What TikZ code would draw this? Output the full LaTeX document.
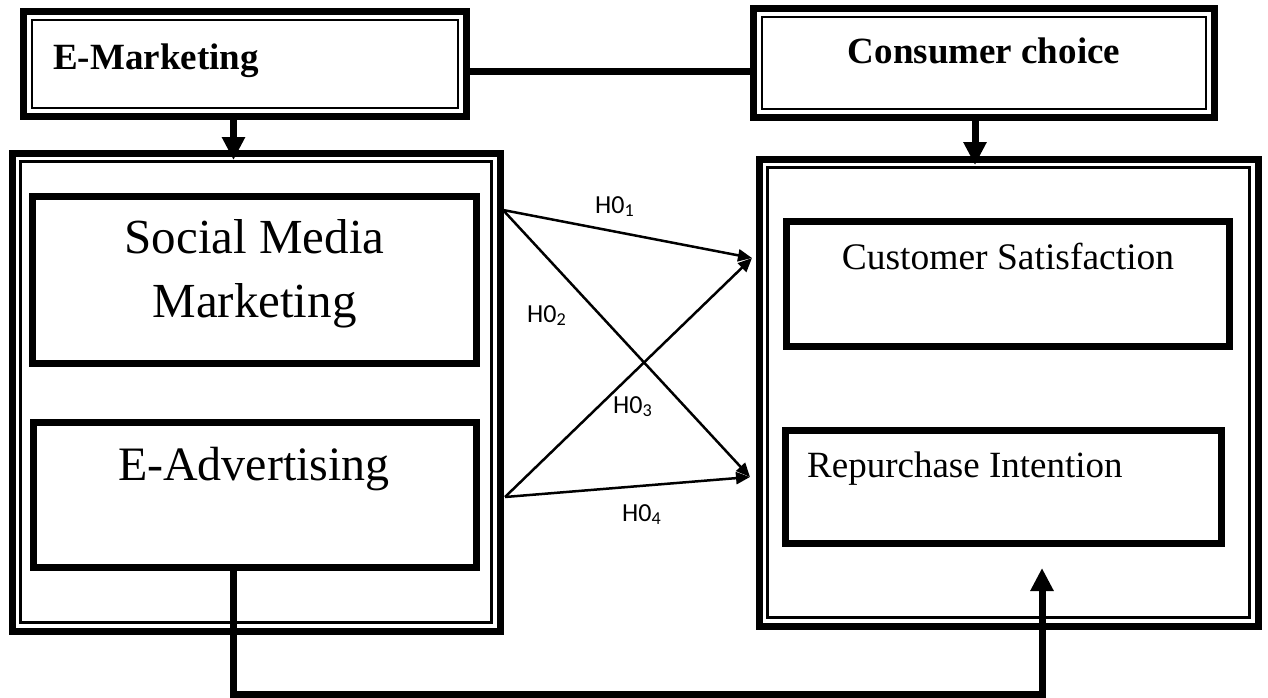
\documentclass[tikz,border=0pt]{standalone}
\usepackage{fontspec}
\setmainfont{Liberation Serif}
\newfontfamily\hfont{Carlito}
\usetikzlibrary{arrows.meta}

\begin{document}
\begin{tikzpicture}[x=1pt, y=-1pt,
    framebox/.style={draw, line width=7pt, inner sep=0pt, outer sep=0pt},
    itembox/.style={draw, line width=7pt, inner sep=0pt, outer sep=0pt},
    boxtext/.style={inner sep=0pt},
    hlabel/.style={anchor=base west, inner sep=0pt, font=\hfont\fontsize{26}{30}\selectfont},
    link/.style={line width=7pt},
    fatarrow/.style={line width=7pt, -{Triangle[length=23pt, width=22pt]}},
    hyp/.style={line width=2.5pt, -{Triangle[length=14pt, width=12pt]}}]
  \useasboundingbox (0,0) rectangle (1268,698);

  % headline boxes
  \node[framebox, minimum width=443pt, minimum height=105pt] (emk) at (245,64) {};
  \node[framebox, minimum width=461pt, minimum height=109pt] (cch) at (984,63) {};
  % the two groups
  \node[framebox, minimum width=488pt, minimum height=478pt] (lgrp) at (256,392) {};
  \node[framebox, minimum width=499pt, minimum height=467pt] (rgrp) at (1008.5,392.5) {};
  % thin inner rule of each frame
  \foreach \f in {emk,cch,lgrp,rgrp}
    \draw[line width=2.5pt] ([shift={(8.5,8.5)}]\f.north west) rectangle ([shift={(-8.5,-8.5)}]\f.south east);

  % variables
  \node[itembox, minimum width=444pt, minimum height=167pt] (smm) at (254.5,280) {};
  \node[itembox, minimum width=443pt, minimum height=145pt] (eadv) at (255,495) {};
  \node[itembox, minimum width=443pt, minimum height=125pt] (csat) at (1008,284) {};
  \node[itembox, minimum width=436pt, minimum height=113pt] (rpi) at (1003.5,487) {};

  % texts
  \node[boxtext, anchor=base west, font=\bfseries\fontsize{37}{44}\selectfont] (emktxt) at (53,70) {E-Marketing};
  \node[boxtext, anchor=base, font=\bfseries\fontsize{37}{44}\selectfont] (cchtxt) at (984,64) {Consumer choice};
  \node[boxtext, anchor=base, align=center, font=\fontsize{49}{64}\selectfont] (smmtxt) at (254.5,317) {Social Media\\Marketing};
  \node[boxtext, anchor=base, font=\fontsize{48}{58}\selectfont] (eadvtxt) at (254,480) {E-Advertising};
  \node[boxtext, anchor=base, font=\fontsize{37.5}{44}\selectfont] (csattxt) at (1008,269) {Customer Satisfaction};
  \node[boxtext, anchor=base west, font=\fontsize{37}{44}\selectfont] (rpitxt) at (807,477) {Repurchase Intention};

  % hypotheses
  \coordinate (smmout) at (503,210);
  \coordinate (eadvout) at (505,497);
  \coordinate (csatin) at (752,258);
  \coordinate (rpiin) at (750,477);
  \draw[hyp] (smmout) -- (csatin);
  \draw[hyp] (smmout) -- (rpiin);
  \draw[hyp] (eadvout) -- (csatin);
  \draw[hyp] (eadvout) -- (rpiin);
  \node[hlabel] (h1) at (595,213) {H0\textsubscript{1}};
  \node[hlabel] (h2) at (527,322) {H0\textsubscript{2}};
  \node[hlabel] (h3) at (613,413) {H0\textsubscript{3}};
  \node[hlabel] (h4) at (622,521) {H0\textsubscript{4}};

  % links between the levels
  \coordinate (lgrptop) at (233.5,160);
  \coordinate (rgrptop) at (975,165);
  \coordinate (lowpt) at (233,694);
  \coordinate (rgrpbot) at (1042,568);
  \draw[link] ([yshift=-8pt]emk.east) -- ([yshift=-8pt]emk.east -| cch.west);
  \draw[fatarrow] (emk.south -| lgrptop) -- (lgrptop);
  \draw[fatarrow] (cch.south -| rgrptop) -- (rgrptop);
  \draw[fatarrow] (eadv.south -| lowpt) -- (lowpt) -| (rgrpbot);
\end{tikzpicture}
\end{document}
